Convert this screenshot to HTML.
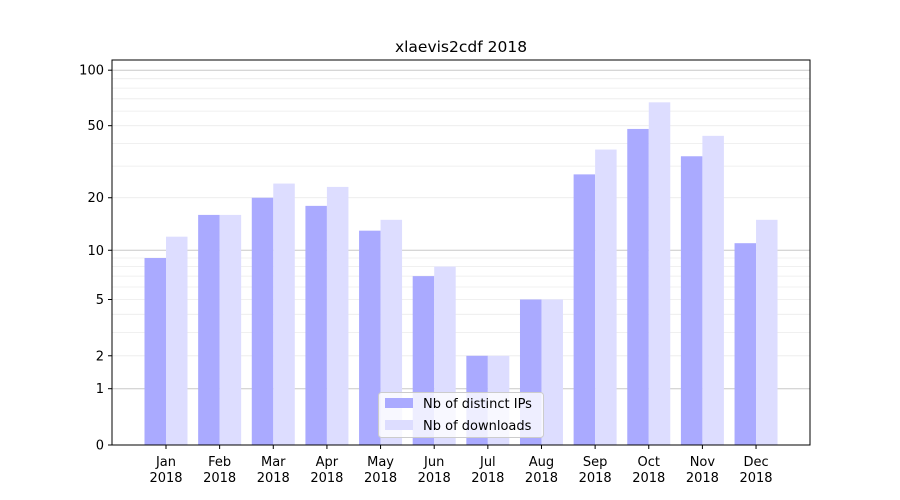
<!DOCTYPE html>
<html><head><meta charset="utf-8"><style>body{margin:0;background:#fff}svg{display:block;font-family:"DejaVu Sans","Liberation Sans",sans-serif}</style></head>
<body><svg id="s" width="900" height="500" xmlns="http://www.w3.org/2000/svg"></svg>
<script>
const s=document.getElementById('s');
const Y=v=>445-187*Math.log10(1+v);
let h='<rect width="900" height="500" fill="#fff"/>';
const minors=[2,3,4,5,6,7,8,9,20,30,40,50,60,70,80,90];
minors.forEach(v=>{h+=`<line x1="112" x2="810" y1="${Y(v).toFixed(1)}" y2="${Y(v).toFixed(1)}" stroke="#ebebeb" stroke-width="0.8"/>`});
[1,10,100].forEach(v=>{h+=`<line x1="112" x2="810" y1="${Y(v).toFixed(1)}" y2="${Y(v).toFixed(1)}" stroke="#c8c8c8" stroke-width="1"/>`});
const m=['Jan','Feb','Mar','Apr','May','Jun','Jul','Aug','Sep','Oct','Nov','Dec'];
const a=[9,16,20,18,13,7,2,5,27,48,34,11],b=[12,16,24,23,15,8,2,5,37,67,44,15];
const w=21.5;
m.forEach((n,i)=>{const c=166+i*53.64;
h+=`<rect x="${c-w}" y="${Y(a[i])}" width="${w}" height="${445-Y(a[i])}" fill="#aaaaff"/>`;
h+=`<rect x="${c}" y="${Y(b[i])}" width="${w}" height="${445-Y(b[i])}" fill="#ddddff"/>`;
h+=`<line x1="${c}" x2="${c}" y1="445" y2="449" stroke="#000"/>`;
h+=`<text x="${c}" y="466" font-size="13" text-anchor="middle">${n}</text><text x="${c}" y="482" font-size="13" text-anchor="middle">2018</text>`;
});
[[0,'0'],[1,'1'],[2,'2'],[5,'5'],[10,'10'],[20,'20'],[50,'50'],[100,'100']].forEach(([v,t])=>{const y=Y(v);
h+=`<line x1="108" x2="112" y1="${y}" y2="${y}" stroke="#000"/><text x="104" y="${y+4.5}" font-size="13" text-anchor="end">${t}</text>`});
h+='<rect x="112" y="60" width="698" height="385" fill="none" stroke="#000" stroke-width="1"/>';
h+='<text x="461" y="52" font-size="15.5" text-anchor="middle">xlaevis2cdf 2018</text>';
h+='<rect x="378.5" y="392.5" width="165" height="45" rx="3" fill="#fff" fill-opacity="0.8" stroke="#ccc"/>';
h+='<rect x="385" y="398" width="28" height="10" fill="#aaaaff"/><text x="423" y="408" font-size="13">Nb of distinct IPs</text>';
h+='<rect x="385" y="420" width="28" height="10" fill="#ddddff"/><text x="423" y="430" font-size="13">Nb of downloads</text>';
s.innerHTML=h;
</script></body></html>
